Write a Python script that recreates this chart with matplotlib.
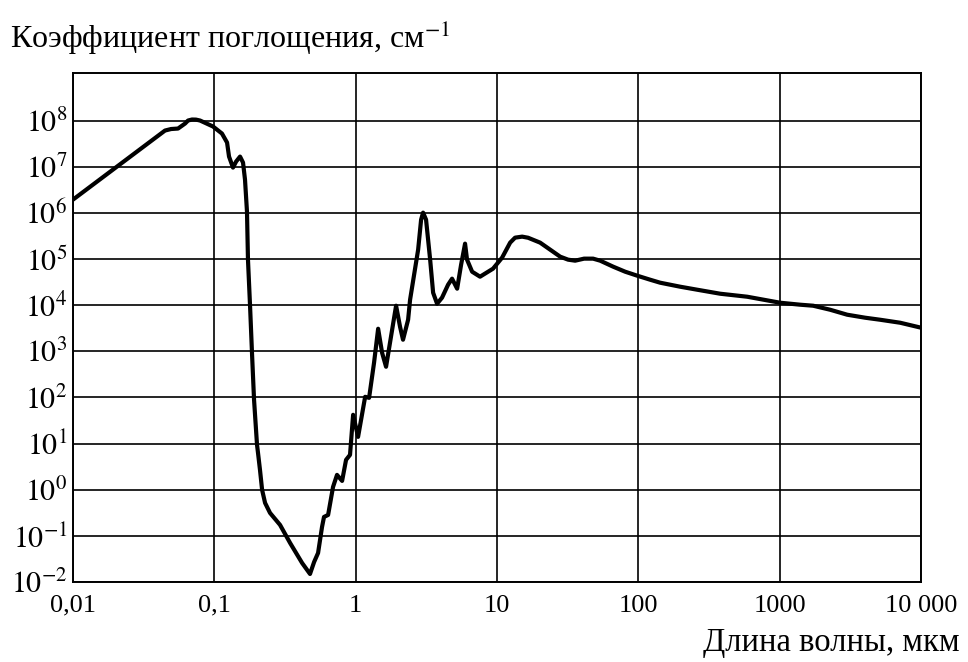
import matplotlib
matplotlib.use("Agg")
import matplotlib.pyplot as plt
import numpy as np

# Wavelength (µm) and absorption coefficient (cm^-1) (log10 values)
log_wavelength = [
    -2.000, -1.349, -1.306, -1.257, -1.207, -1.186, -1.158, -1.130, -1.101, -1.009,
    -0.946, -0.910, -0.896, -0.868, -0.846, -0.818, -0.797, -0.783, -0.769, -0.762,
    -0.747, -0.733, -0.719, -0.698, -0.691, -0.677, -0.662, -0.641, -0.606, -0.535,
    -0.464, -0.379, -0.323, -0.294, -0.266, -0.238, -0.224, -0.195, -0.160, -0.132,
    -0.096, -0.068, -0.040, -0.018, 0.017, 0.067, 0.095, 0.130, 0.159, 0.187,
    0.215, 0.258, 0.286, 0.314, 0.335, 0.371, 0.385, 0.442, 0.463, 0.477,
    0.498, 0.527, 0.548, 0.576, 0.611, 0.654, 0.682, 0.718, 0.746, 0.774,
    0.788, 0.824, 0.880, 0.972, 1.036, 1.093, 1.128, 1.178, 1.220, 1.305,
    1.376, 1.447, 1.503, 1.553, 1.616, 1.680, 1.730, 1.822, 1.907, 1.992,
    2.083, 2.154, 2.296, 2.416, 2.579, 2.770, 3.003, 3.145, 3.237, 3.357,
    3.478, 3.605, 3.711, 3.853, 4.001,
]
log_absorption = [
    6.286, 7.783, 7.816, 7.826, 7.935, 8.000, 8.022, 8.020, 8.000, 7.870,
    7.718, 7.523, 7.219, 6.980, 7.111, 7.219, 7.089, 6.720, 6.026, 4.985,
    3.965, 2.924, 1.948, 0.972, 0.798, 0.430, -0.004, -0.286, -0.503, -0.763,
    -1.154, -1.588, -1.826, -1.566, -1.371, -0.807, -0.590, -0.547, 0.061, 0.321,
    0.191, 0.647, 0.755, 1.623, 1.145, 2.013, 1.991, 2.750, 3.488, 2.967,
    2.664, 3.466, 3.987, 3.531, 3.250, 3.683, 4.117, 5.202, 5.852, 6.004,
    5.852, 4.985, 4.269, 4.030, 4.161, 4.443, 4.573, 4.356, 4.876, 5.332,
    4.985, 4.724, 4.616, 4.790, 5.028, 5.354, 5.462, 5.484, 5.460, 5.354,
    5.202, 5.050, 4.985, 4.963, 5.007, 5.007, 4.963, 4.833, 4.724, 4.638,
    4.551, 4.486, 4.399, 4.334, 4.247, 4.182, 4.052, 4.009, 3.987, 3.900,
    3.792, 3.727, 3.683, 3.618, 3.510,
]

x_ticks = [0.01, 0.1, 1, 10, 100, 1000, 10000]
x_tick_labels = ["0,01", "0,1", "1", "10", "100", "1000", "10 000"]
y_exponents = [-2, -1, 0, 1, 2, 3, 4, 5, 6, 7, 8]
y_tick_labels = [r"$10^{%d}$" % e if e >= 0 else r"$10^{-%d}$" % (-e) for e in y_exponents]

plt.rcParams["font.family"] = ["Liberation Serif", "DejaVu Serif"]
plt.rcParams["mathtext.fontset"] = "stix"

fig = plt.figure(figsize=(9.68, 6.62), dpi=100)
ax = fig.add_axes([73 / 968, 1 - 582 / 662, (921 - 73) / 968, (582 - 73) / 662])

x = 10 ** np.array(log_wavelength)
y = 10 ** np.array(log_absorption)
ax.plot(x, y, color="black", lw=3.0, solid_joinstyle="round", solid_capstyle="round", zorder=3)

ax.set_xscale("log")
ax.set_yscale("log")
ax.set_xlim(0.01, 10000)
ax.set_ylim(1e-2, 10 ** 9.03)

ax.set_xticks(x_ticks)
ax.set_xticklabels(x_tick_labels, fontsize=19)
ax.set_yticks([10.0 ** e for e in y_exponents])
ax.set_yticklabels(y_tick_labels, fontsize=21.5)
ax.minorticks_off()
ax.tick_params(axis="both", length=0)
ax.tick_params(axis="x", pad=9)
ax.tick_params(axis="y", pad=4)

ax.grid(True, which="major", color="black", lw=1.2)
ax.set_axisbelow(True)
for s in ax.spines.values():
    s.set_color("black")
    s.set_linewidth(1.4)

fig.text(10 / 968, 1 - 38 / 662, "Коэффициент поглощения, см$^{-1}$",
         fontsize=23, ha="left", va="center")
fig.text(960 / 968, 1 - 643 / 662, "Длина волны, мкм",
         fontsize=23.5, ha="right", va="center")

fig.savefig("out.png", dpi=100, facecolor="white")
